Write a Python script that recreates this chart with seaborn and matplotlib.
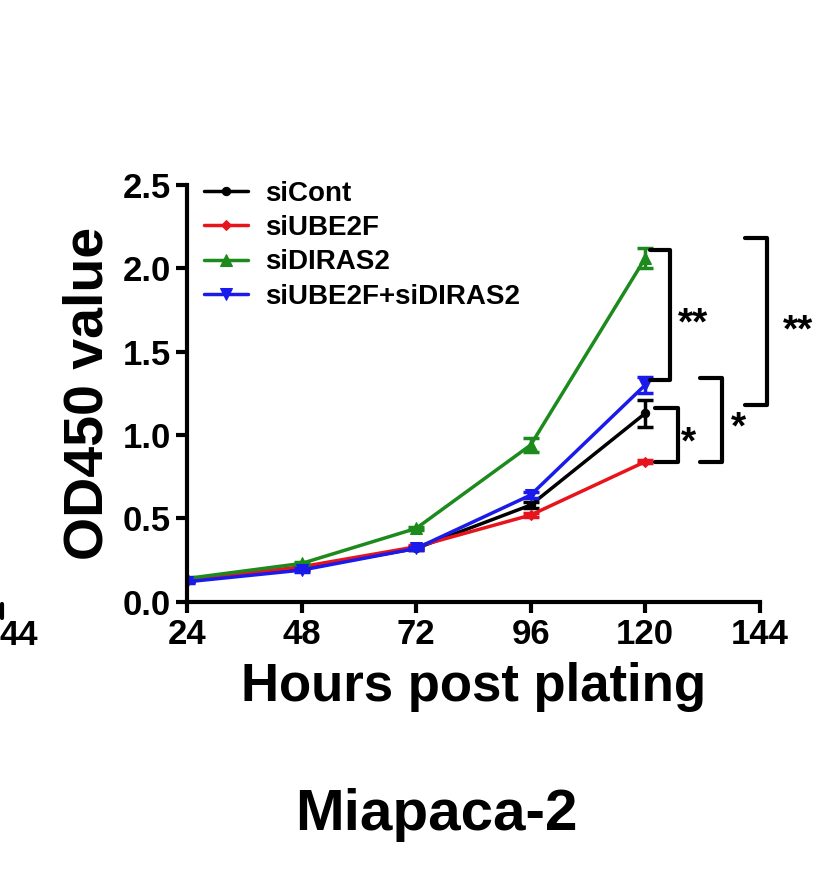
import matplotlib
matplotlib.use("Agg")
import matplotlib.pyplot as plt
import pandas as pd
import seaborn as sns

hours = [24, 48, 72, 96, 120]
si_cont = [0.13, 0.20, 0.32, 0.58, 1.13]
si_ube2f = [0.13, 0.21, 0.33, 0.52, 0.84]
si_diras2 = [0.14, 0.23, 0.44, 0.94, 2.06]
si_both = [0.12, 0.19, 0.32, 0.64, 1.30]
err_cont = [0.01, 0.01, 0.01, 0.02, 0.08]
err_ube2f = [0.01, 0.01, 0.01, 0.01, 0.01]
err_diras2 = [0.01, 0.01, 0.01, 0.04, 0.06]
err_both = [0.01, 0.01, 0.01, 0.02, 0.05]

labels = ["siCont", "siUBE2F", "siDIRAS2", "siUBE2F+siDIRAS2"]
colors = ["black", "#e8141b", "#1c8a1c", "#1a1aeb"]
markers = ["o", "D", "^", "v"]
sizes = [6, 5, 9, 9]

sns.set_style("ticks")
plt.rcParams["font.family"] = "Liberation Sans"
plt.rcParams["font.weight"] = "bold"
plt.rcParams["text.color"] = "black"
plt.rcParams["axes.labelcolor"] = "black"
plt.rcParams["xtick.color"] = "black"
plt.rcParams["ytick.color"] = "black"
plt.rcParams["axes.edgecolor"] = "black"

fig = plt.figure(figsize=(8.24, 8.76), dpi=100)
ax = fig.add_axes([0.227, 0.313, 0.695, 0.476])

series = [si_cont, si_ube2f, si_diras2, si_both]
errs = [err_cont, err_ube2f, err_diras2, err_both]
for vals, err, lab, c, m, s in zip(series, errs, labels, colors, markers, sizes):
    df = pd.DataFrame({"h": hours, "v": vals})
    sns.lineplot(data=df, x="h", y="v", ax=ax, color=c, marker=m, markersize=s,
                 markeredgecolor=c, linewidth=2.5, label=lab)
    ax.errorbar(hours, vals, yerr=err, fmt="none", ecolor=c, elinewidth=2.5, capsize=6, capthick=2.5)

ax.set_xlim(24, 144)
ax.set_ylim(0, 2.5)
ax.set_xticks([24, 48, 72, 96, 120, 144])
ax.set_yticks([0, 0.5, 1.0, 1.5, 2.0, 2.5])
ax.set_yticklabels(["0.0", "0.5", "1.0", "1.5", "2.0", "2.5"])
ax.tick_params(labelsize=25, width=3, length=8)
for lab in ax.get_xticklabels() + ax.get_yticklabels():
    lab.set_fontweight("bold")
for sp in ["top", "right"]:
    ax.spines[sp].set_visible(False)
for sp in ["left", "bottom"]:
    ax.spines[sp].set_linewidth(3)
ax.set_xlabel("Hours post plating", fontsize=38, fontweight="bold", labelpad=8)
ax.set_ylabel("OD450 value", fontsize=40, fontweight="bold", labelpad=6)

leg = ax.legend(loc="upper left", bbox_to_anchor=(0.0, 1.05), frameon=False,
                prop={"weight": "bold", "size": 20}, handlelength=1.6,
                handletextpad=0.6, labelspacing=0.3, borderaxespad=0.2)

# significance brackets
brackets = [(121, 125.2, 2.11, 1.33, "**", 130.0, 1.66),
            (122, 126.8, 1.16, 0.84, "*", 129.0, 0.95),
            (131.4, 136, 1.34, 0.84, "*", 139.5, 1.04),
            (140.9, 145.5, 2.18, 1.18, "**", 152.0, 1.62)]
for x0, x1, y0, y1, txt, tx, ty in brackets:
    ax.plot([x0, x1, x1, x0], [y0, y0, y1, y1], color="black", lw=3, clip_on=False)
    ax.text(tx, ty, txt, fontsize=28, fontweight="bold", ha="center", va="center", clip_on=False)

fig.text(0.53, 0.07, "Miapaca-2", fontsize=42, fontweight="bold", ha="center", va="center")
fig.text(0.0, 0.275, "44", fontsize=25, fontweight="bold", ha="left", va="center")
ax.plot([0.003, 0.003], [0.295, 0.31], color="black", lw=3, transform=fig.transFigure, clip_on=False)

fig.savefig("out.png", dpi=100)
